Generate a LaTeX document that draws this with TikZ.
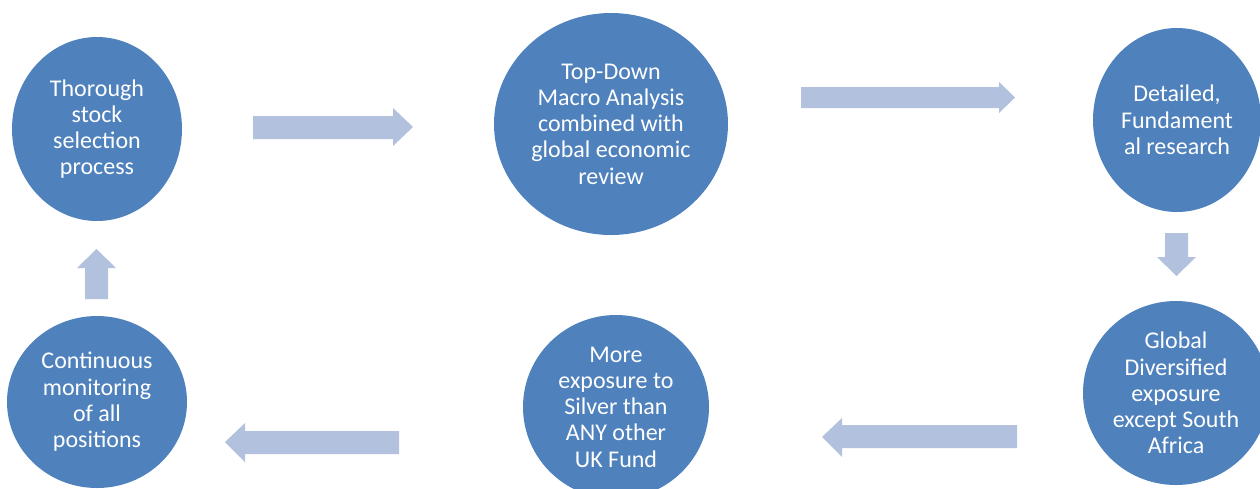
\documentclass[tikz,border=0pt]{standalone}
\usepackage{fontspec}
\setmainfont{Carlito}
\usetikzlibrary{shapes.geometric}
\definecolor{circblue}{HTML}{4F81BD}
\definecolor{arrblue}{HTML}{B1C1DE}
\tikzset{
  bubble/.style={ellipse, fill=circblue, draw=none, inner sep=0pt, text=white,
    align=center, font=\fontsize{24}{26.25}\selectfont},
  blockarrow/.style={fill=arrblue, draw=none}
}
\begin{document}
\begin{tikzpicture}[x=1pt,y=-1pt]
\useasboundingbox (0,0) rectangle (1260,488);
\begin{scope}
\clip (0,0) rectangle (1260,488);
\node[bubble, minimum width=170pt, minimum height=184pt] (c1) at (97,129) {Thorough\\stock\\selection\\process};
\node[bubble, minimum width=234pt, minimum height=222pt] (c2) at (611,124) {Top-Down\\Macro Analysis\\combined with\\global economic\\review};
\node[bubble, minimum width=168pt, minimum height=184pt] (c3) at (1177,120) {Detailed,\\Fundament\\al research};
\node[bubble, minimum width=186pt, minimum height=184pt] (c4) at (1176,393) {Global\\Diversified\\exposure\\except South\\Africa};
\node[bubble, minimum width=186pt, minimum height=184pt] (c5) at (616,407) {More\\exposure to\\Silver than\\ANY other\\UK Fund};
\node[bubble, minimum width=180pt, minimum height=172pt] (c6) at (97,402) {Continuous\\monitoring\\of all\\positions};
\end{scope}
% block arrows
\fill[blockarrow] (253,116) -- (393,116) -- (393,108) -- (413,127) -- (393,146) -- (393,139) -- (253,139) -- cycle;
\fill[blockarrow] (801,87) -- (999,87) -- (999,82) -- (1015,97.5) -- (999,113) -- (999,108) -- (801,108) -- cycle;
\fill[blockarrow] (1165,233) -- (1188,233) -- (1188,257) -- (1196,257) -- (1176.5,276) -- (1157,257) -- (1165,257) -- cycle;
\fill[blockarrow] (1017,425) -- (842,425) -- (842,418) -- (822,437) -- (842,457) -- (842,448) -- (1017,448) -- cycle;
\fill[blockarrow] (399,431) -- (245,431) -- (245,423) -- (225,442) -- (245,462) -- (245,454) -- (399,454) -- cycle;
\fill[blockarrow] (85,299) -- (108,299) -- (108,268) -- (116,268) -- (96.5,249) -- (77,268) -- (85,268) -- cycle;
\end{tikzpicture}
\end{document}
